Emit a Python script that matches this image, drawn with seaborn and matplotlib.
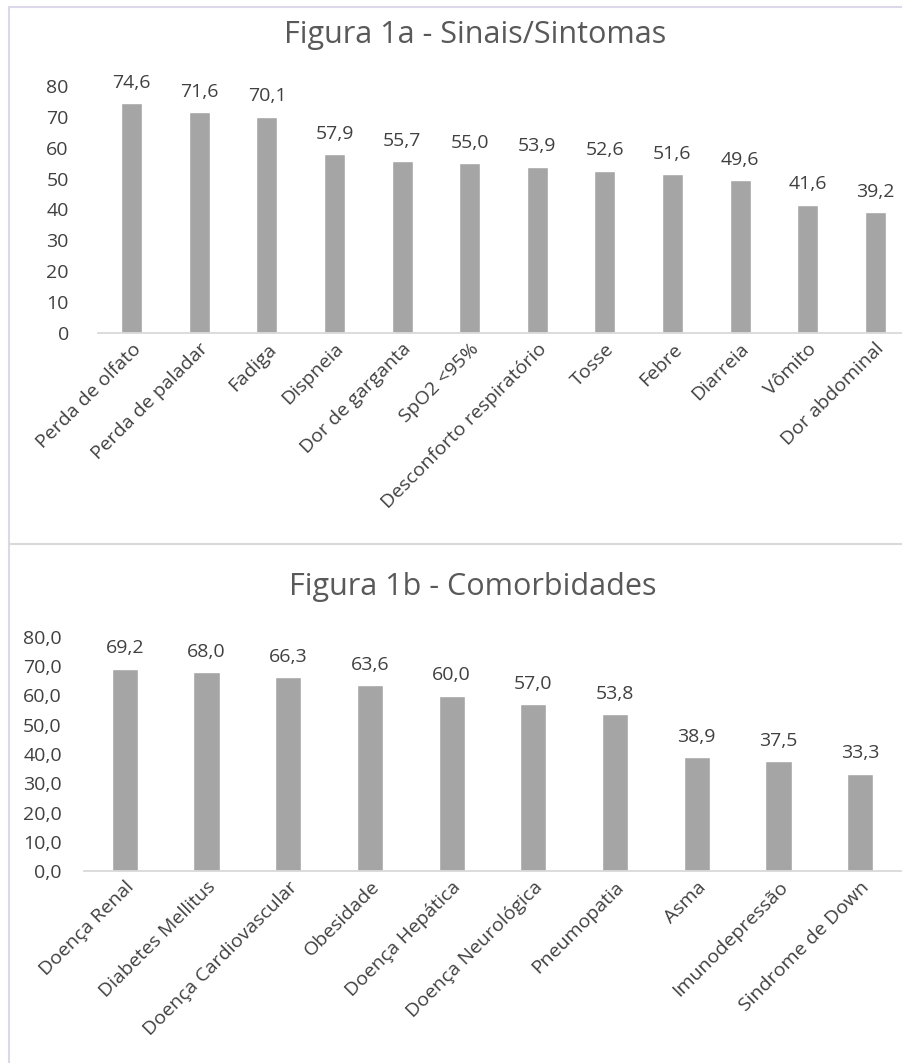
import matplotlib
matplotlib.use("Agg")
import matplotlib.pyplot as plt
from matplotlib.lines import Line2D
from matplotlib.ticker import FuncFormatter, MultipleLocator
import seaborn as sns

# Figura 1a - sinais/sintomas
sintomas = ["Perda de olfato", "Perda de paladar", "Fadiga", "Dispneia",
            "Dor de garganta", "SpO2 <95%", "Desconforto respiratório",
            "Tosse", "Febre", "Diarreia", "Vômito", "Dor abdominal"]
sintomas_vals = [74.6, 71.6, 70.1, 57.9, 55.7, 55.0, 53.9, 52.6, 51.6, 49.6, 41.6, 39.2]

# Figura 1b - comorbidades
comorbidades = ["Doença Renal", "Diabetes Mellitus", "Doença Cardiovascular",
                "Obesidade", "Doença Hepática", "Doença Neurológica",
                "Pneumopatia", "Asma", "Imunodepressão", "Sindrome de Down"]
comorb_vals = [69.2, 68.0, 66.3, 63.6, 60.0, 57.0, 53.8, 38.9, 37.5, 33.3]

sns.set_theme(style="white")
plt.rcParams['font.family'] = ['Open Sans', 'DejaVu Sans']

TXT = "#404040"
TITULO = "#595959"
BAR = "#A5A5A5"
W, H = 903, 1063

fig = plt.figure(figsize=(W / 100, H / 100), dpi=100)
fig.patch.set_facecolor("white")


def px_axes(x0, x1, y_top, y_bot):
    return fig.add_axes([x0 / W, 1 - y_bot / H, (x1 - x0) / W, (y_bot - y_top) / H])


def desenhar(ax, cats, vals, width, fmt_tick, ypad):
    sns.barplot(x=cats, y=vals, color=BAR, saturation=1, width=width, ax=ax)
    ax.set_ylim(0, 80)
    ax.yaxis.set_major_locator(MultipleLocator(10))
    ax.yaxis.set_major_formatter(FuncFormatter(fmt_tick))
    for s in ["top", "right", "left"]:
        ax.spines[s].set_visible(False)
    ax.spines["bottom"].set_color("#D9D9D9")
    ax.spines["bottom"].set_linewidth(1.3)
    ax.tick_params(axis="y", length=0, pad=ypad, labelsize=14, labelcolor=TXT)
    ax.tick_params(axis="x", length=0, pad=5, labelsize=14, labelcolor=TXT)
    for lab in ax.get_xticklabels():
        lab.set_rotation(45)
        lab.set_ha("right")
        lab.set_va("top")
        lab.set_rotation_mode("anchor")
    ax.bar_label(ax.containers[0],
                 labels=[f"{v:.1f}".replace(".", ",") for v in vals],
                 padding=8, color=TXT, fontsize=14)
    ax.set_xlabel("")
    ax.set_ylabel("")


ax1 = px_axes(98, 909, 86, 333)
desenhar(ax1, sintomas, sintomas_vals, 0.31, lambda v, p: f"{v:.0f}", 21)

ax2 = px_axes(84, 901, 637, 871)
desenhar(ax2, comorbidades, comorb_vals, 0.32,
         lambda v, p: f"{v:.1f}".replace(".", ","), 16)

fig.text(475 / W, 1 - 35 / H, "Figura 1a - Sinais/Sintomas",
         ha="center", va="center", fontsize=22, color=TITULO)
fig.text(473 / W, 1 - 587 / H, "Figura 1b - Comorbidades",
         ha="center", va="center", fontsize=22, color=TITULO)

# bordas dos paineis
fig.add_artist(Line2D([9 / W, 1], [1 - 7 / H, 1 - 7 / H], color="#DCD8EA", lw=1.5))
fig.add_artist(Line2D([9 / W, 9 / W], [0, 1 - 7 / H], color="#DCD8EA", lw=1.5))
fig.add_artist(Line2D([9 / W, 1], [1 - 544 / H, 1 - 544 / H], color="#D9D9D9", lw=1.5))

fig.savefig("out.png", dpi=100)
